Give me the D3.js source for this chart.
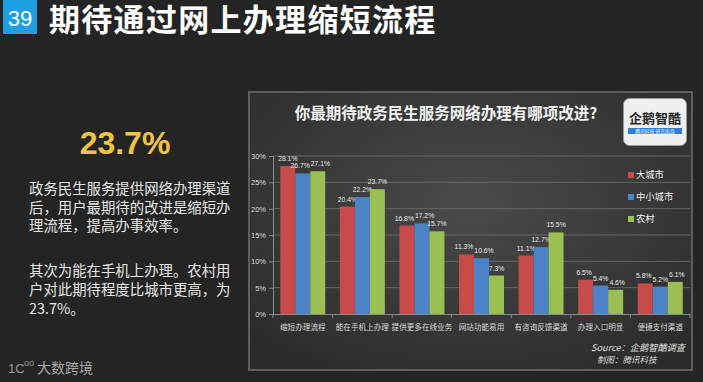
<!DOCTYPE html>
<html><head><meta charset="utf-8">
<script src="https://cdn.jsdelivr.net/npm/d3@7"></script>
<style>
html,body{margin:0;padding:0;background:#242424;}
svg{display:block;}
</style></head>
<body>
<svg id="c" width="703" height="382"></svg>
<script>
const categories = ["缩短办理流程","能在手机上办理","提供更多在线业务","网站功能易用","有咨询反馈渠道","办理入口明显","便捷支付渠道"];
const seriesNames = ["大城市","中小城市","农村"];
const bigCity   = [28.1,20.4,16.8,11.3,11.1,6.5,5.8];
const smallCity = [26.7,22.2,17.2,10.6,12.7,5.4,5.2];
const rural     = [27.1,23.7,15.7,7.3,15.5,4.6,6.1];
const yTicks = [0,5,10,15,20,25,30];
const colors = ["#c84b4b","#4a84c6","#9bbf52"];
const seriesValues = [bigCity, smallCity, rural];

(function(){
const svg = d3.select("#c");
const FONT = "'Noto Sans CJK SC','Noto Sans',sans-serif";
const LAT = "'Liberation Sans',Arial,sans-serif";

const defs = svg.append("defs");
const rg = defs.append("radialGradient").attr("id","pg").attr("cx","50%").attr("cy","40%").attr("r","70%");
rg.append("stop").attr("offset","0%").attr("stop-color","#4a4a4a");
rg.append("stop").attr("offset","100%").attr("stop-color","#2b2b2b");

svg.append("rect").attr("width",703).attr("height",382).attr("fill","#242424");

// header
svg.append("rect").attr("x",3).attr("y",0).attr("width",34).attr("height",34).attr("fill","#1e9fe3");
svg.append("text").attr("x",20).attr("y",26).attr("text-anchor","middle").attr("fill","#fff")
  .attr("font-family",LAT).attr("font-size",22).text("39");
svg.append("text").attr("x",49).attr("y",31).attr("fill","#fff").attr("font-family",FONT)
  .attr("font-size",31).attr("letter-spacing",1.3).attr("font-weight","bold").text("期待通过网上办理缩短流程");

// left text
svg.append("text").attr("x",125).attr("y",154).attr("text-anchor","middle").attr("fill","#efc443")
  .attr("font-family",LAT).attr("font-weight","bold").attr("font-size",32).text("23.7%");
const para = ["政务民生服务提供网络办理渠道","后，用户最期待的改进是缩短办","理流程，提高办事效率。","","其次为能在手机上办理。农村用","户对此期待程度比城市更高，为","23.7%。"];
const paraY = [194,213,231,0,276,295,314];
para.forEach((t,i)=>{ if(!t) return;
  svg.append("text").attr("x",29).attr("y",paraY[i]).attr("fill","#e6e6e6").attr("font-family",FONT)
    .attr("font-size",14.4).text(t);
});

// bottom-left logo
svg.append("text").attr("x",8).attr("y",373).attr("fill","#9a9a9a").attr("font-family",LAT)
  .attr("font-size",13).text("1C");
svg.append("text").attr("x",24).attr("y",366).attr("fill","#9a9a9a").attr("font-family",LAT)
  .attr("font-size",9).text("oo");
svg.append("text").attr("x",37).attr("y",373).attr("fill","#a8a8a8").attr("font-family",FONT)
  .attr("font-size",14).text("大数跨境");

// panel
svg.append("rect").attr("x",249).attr("y",92).attr("width",443).attr("height",278)
  .attr("fill","url(#pg)").attr("stroke","#5e5e5e").attr("stroke-width",2);

svg.append("text").attr("x",446).attr("y",119).attr("text-anchor","middle").attr("fill","#f2f2f2")
  .attr("font-family",FONT).attr("font-weight","bold").attr("font-size",15.5).text("你最期待政务民生服务网络办理有哪项改进?");

// logo box
const lg = svg.append("g");
lg.append("rect").attr("x",623.5).attr("y",98.5).attr("width",63).attr("height",47).attr("rx",6)
  .attr("fill","#f0f0f0").attr("stroke","#9a9a9a");
lg.append("text").attr("x",655).attr("y",123).attr("text-anchor","middle").attr("fill","#2a2a2a")
  .attr("font-family",FONT).attr("font-weight","bold").attr("font-size",13).text("企鹅智酷");
lg.append("rect").attr("x",628).attr("y",128).attr("width",54).attr("height",6).attr("fill","#2f7fd6");
lg.append("text").attr("x",655).attr("y",133.2).attr("text-anchor","middle").attr("fill","#fff")
  .attr("font-family",FONT).attr("font-size",4.8).text("腾讯科技  研究出品");

// plot
const pLeft = 273, pRight = 690, pTop = 156, pBottom = 314;
const y = d3.scaleLinear().domain([0,30]).range([pBottom, pTop]);
const x0 = d3.scaleBand().domain(categories).range([pLeft,pRight]).paddingInner(0.245).paddingOuter(0.1225);
const x1 = d3.scaleBand().domain(seriesNames).range([0,x0.bandwidth()]).padding(0);

svg.append("g").selectAll("line").data(yTicks.filter(d=>d>0)).join("line")
  .attr("x1",pLeft).attr("x2",pRight).attr("y1",d=>y(d)).attr("y2",d=>y(d))
  .attr("stroke","#666").attr("stroke-width",1);

const yAxis = svg.append("g").attr("transform",`translate(${pLeft},0)`)
  .call(d3.axisLeft(y).tickValues(yTicks).tickFormat(d=>d+"%").tickSize(4).tickPadding(3));
yAxis.select(".domain").attr("stroke","#8a8a8a");
yAxis.selectAll(".tick line").attr("stroke","#8a8a8a");
yAxis.selectAll("text").attr("fill","#dcdcdc").attr("font-family",LAT).attr("font-size",7.5);

const groups = svg.append("g").selectAll("g").data(categories).join("g")
  .attr("transform",d=>`translate(${x0(d)},0)`);
groups.each(function(cat,ci){
  const g = d3.select(this);
  const labs = [];
  seriesNames.forEach((s,si)=>{
    const v = seriesValues[si][ci];
    g.append("rect").attr("x",x1(s)).attr("width",x1.bandwidth()).attr("y",y(v)).attr("height",pBottom-y(v)).attr("fill",colors[si]);
    const t = g.append("text").attr("text-anchor","middle")
      .attr("fill","#e8e8e8").attr("font-family",LAT).attr("font-size",6.8)
      .text(v.toFixed(1)+"%");
    labs.push({t, x:x1(s)+x1.bandwidth()/2, y:y(v)-5, w:t.node().getComputedTextLength()});
  });
  for(let it=0; it<6; it++){
    for(let i=1;i<labs.length;i++){
      const a=labs[i-1], b=labs[i];
      if(Math.abs(a.y-b.y) < 7){
        const need = (a.w+b.w)/2 + 1 - (b.x-a.x);
        if(need>0){ a.x -= need/2; b.x += need/2; }
      }
    }
  }
  labs.forEach(l=>l.t.attr("x",l.x).attr("y",l.y));
});

const xAxis = svg.append("g").attr("transform",`translate(0,${pBottom})`)
  .call(d3.axisBottom(x0).tickSize(0).tickPadding(11));
xAxis.select(".domain").attr("stroke","#8a8a8a");
xAxis.selectAll("text").attr("fill","#d8d8d8").attr("font-family",FONT).attr("font-size",7.6);
svg.append("g").selectAll("line").data(d3.range(categories.length+1)).join("line")
  .attr("x1",i=>pLeft + i*x0.step()).attr("x2",i=>pLeft + i*x0.step()).attr("y1",pBottom).attr("y2",pBottom+4)
  .attr("stroke","#8a8a8a");

const lgd = svg.append("g").selectAll("g").data(seriesNames).join("g")
  .attr("transform",(d,i)=>`translate(628,${175+i*22})`);
lgd.append("rect").attr("x",0).attr("y",-3).attr("width",6).attr("height",6).attr("fill",(d,i)=>colors[i]);
lgd.append("text").attr("x",8).attr("y",3.3).attr("fill","#f0f0f0").attr("font-family",FONT).attr("font-size",9.3).text(d=>d);

svg.append("text").attr("x",685).attr("y",351).attr("text-anchor","end").attr("fill","#e0e0e0")
  .attr("font-family",FONT).attr("font-style","italic").attr("font-size",9.2).text("Source：企鹅智酷调查");
svg.append("text").attr("x",597).attr("y",363).attr("fill","#d8d8d8")
  .attr("font-family",FONT).attr("font-style","italic").attr("font-size",8.5).text("制图：腾讯科技");
})();
</script>
</body></html>
